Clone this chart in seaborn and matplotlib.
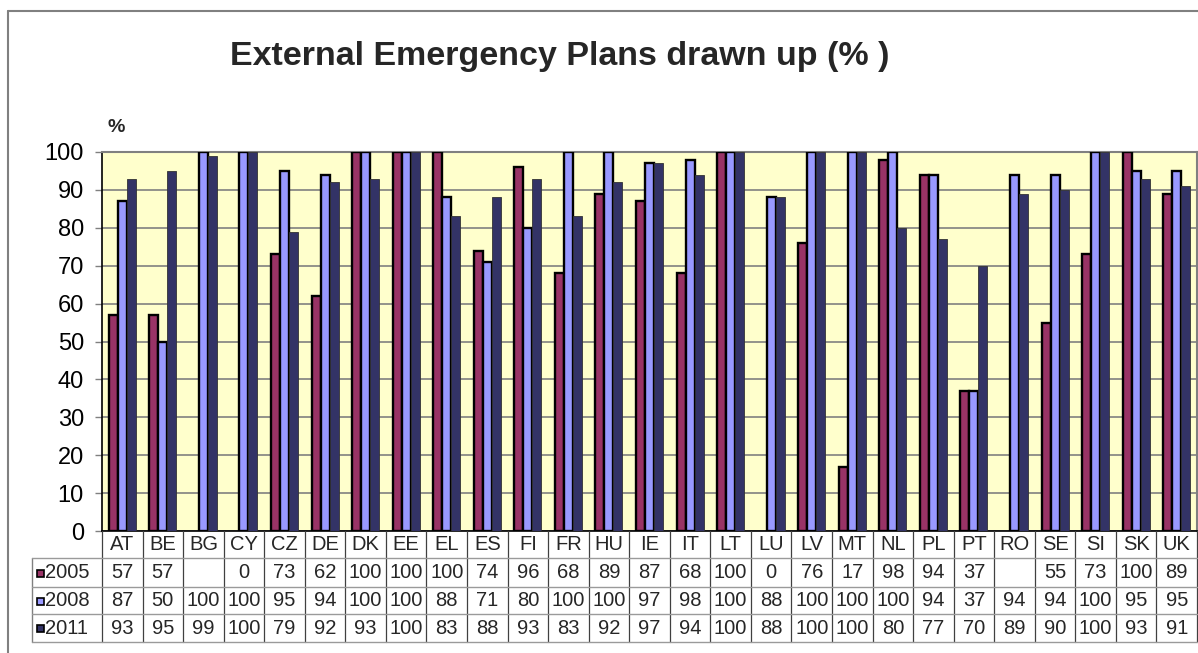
import matplotlib

matplotlib.use("Agg")
import matplotlib.pyplot as plt
import matplotlib.transforms as mtransforms
from matplotlib.lines import Line2D
from matplotlib.patches import Rectangle
import numpy as np
import pandas as pd
import seaborn as sns


COUNTRIES = ["AT", "BE", "BG", "CY", "CZ", "DE", "DK", "EE", "EL", "ES", "FI", "FR", "HU", "IE",
             "IT", "LT", "LU", "LV", "MT", "NL", "PL", "PT", "RO", "SE", "SI", "SK", "UK"]
YEARS = ["2005", "2008", "2011"]
nan = np.nan
VALUES_2005 = [57, 57, nan, 0, 73, 62, 100, 100, 100, 74, 96, 68, 89, 87, 68, 100, 0, 76, 17, 98,
               94, 37, nan, 55, 73, 100, 89]
VALUES_2008 = [87, 50, 100, 100, 95, 94, 100, 100, 88, 71, 80, 100, 100, 97, 98, 100, 88, 100, 100,
               100, 94, 37, 94, 94, 100, 95, 95]
VALUES_2011 = [93, 95, 99, 100, 79, 92, 93, 100, 83, 88, 93, 83, 92, 97, 94, 100, 88, 100, 100, 80,
               77, 70, 89, 90, 100, 93, 91]
COLORS = ["#993366", "#9999FF", "#333366"]

W, H = 1198, 653


def fx(px):
    return px / W


def fy(py):
    return 1 - py / H


def build_frame() -> pd.DataFrame:
    series = {"2005": VALUES_2005, "2008": VALUES_2008, "2011": VALUES_2011}
    rows = []
    for year, vals in series.items():
        for country, v in zip(COUNTRIES, vals):
            rows.append({"Country": country, "Year": year, "Value": v})
    return pd.DataFrame(rows)


def main() -> None:
    sns.set_theme(style="white")
    plt.rcParams["font.family"] = ["Liberation Sans", "DejaVu Sans"]

    df = build_frame()
    fig = plt.figure(figsize=(W / 100, H / 100), dpi=100)
    fig.patch.set_facecolor("white")

    left, right, top, bottom = 102, 1197, 152, 531
    ax = fig.add_axes([fx(left), fy(bottom), fx(right - left), (bottom - top) / H])
    ax.set_facecolor("#FFFFCC")

    sns.barplot(data=df, x="Country", y="Value", hue="Year", hue_order=YEARS, order=COUNTRIES,
                palette=COLORS, saturation=1, width=0.667, gap=0, errorbar=None,
                legend=False, ax=ax, zorder=3)

    for i, cont in enumerate(ax.containers):
        for p in cont:
            if p.get_height() == 0 or np.isnan(p.get_height()):
                p.set_visible(False)
            if i < 2:
                p.set_edgecolor("black")
                p.set_linewidth(1.7)
            else:
                p.set_edgecolor("#333333")
                p.set_linewidth(0.6)

    ax.set_xlim(-0.5, len(COUNTRIES) - 0.5)
    ax.set_ylim(0, 100)
    ax.set_yticks(range(0, 101, 10))
    ax.yaxis.grid(True, color="#808080", linewidth=1.2, zorder=0)
    ax.set_axisbelow(True)
    ax.set_xticks([])
    ax.set_xlabel("")
    ax.set_ylabel("")
    ax.tick_params(axis="y", labelsize=17, length=5, width=1, color="#808080", left=True,
                   pad=8, labelcolor="black")
    for side in ["top", "right"]:
        ax.spines[side].set_color("#808080")
        ax.spines[side].set_linewidth(1.5)
    for side in ["left", "bottom"]:
        ax.spines[side].set_color("black")
        ax.spines[side].set_linewidth(1.2)

    # title and unit label
    fig.text(fx(560), fy(57), "External Emergency Plans drawn up (% )", ha="center", va="center",
             fontsize=24.5, fontweight="bold")
    fig.text(fx(116), fy(128), "%", ha="center", va="center", fontsize=14, fontweight="bold")

    # outer chart frame
    fig.add_artist(Line2D([fx(8), fx(8)], [0, fy(11)], color="#808080", lw=1.5))
    fig.add_artist(Line2D([fx(8), 1], [fy(11), fy(11)], color="#808080", lw=1.5))

    # data table below the plot
    trans = mtransforms.blended_transform_factory(ax.transData, fig.transFigure)
    unit = (right - left) / len(COUNTRIES)
    x_lab_left = -0.5 - (left - 32) / unit
    x_end = len(COUNTRIES) - 0.5
    row_edges = [531, 558, 587, 614, 642]
    grid_kw = dict(transform=trans, clip_on=False)

    for k in range(len(COUNTRIES) + 1):
        xb = k - 0.5
        fig.add_artist(Line2D([xb, xb], [fy(531), fy(642)], color="#404040", lw=0.9, **grid_kw))
    fig.add_artist(Line2D([x_lab_left, x_lab_left], [fy(558), fy(642)], color="#808080", lw=1.0,
                          **grid_kw))
    for py in row_edges[1:]:
        fig.add_artist(Line2D([x_lab_left, x_end], [fy(py), fy(py)], color="#9a9a9a", lw=1.0,
                              **grid_kw))

    fsz = 14.5
    for j, c in enumerate(COUNTRIES):
        fig.text(j, fy((531 + 558) / 2), c, ha="center", va="center", fontsize=fsz,
                 transform=trans)

    series = [VALUES_2005, VALUES_2008, VALUES_2011]
    for r, (year, vals, col) in enumerate(zip(YEARS, series, COLORS)):
        yc = (row_edges[r + 1] + row_edges[r + 2]) / 2
        for j, v in enumerate(vals):
            label = "" if np.isnan(v) else f"{int(v)}"
            fig.text(j, fy(yc), label, ha="center", va="center", fontsize=fsz, transform=trans)
        fig.add_artist(Rectangle((fx(37), fy(yc + 4)), fx(7), 7 / H, facecolor=col,
                                 edgecolor="black", lw=1.2, transform=fig.transFigure))
        fig.text(fx(45), fy(yc), year, ha="left", va="center", fontsize=fsz)

    fig.savefig("out.png", dpi=100)
    plt.close(fig)


if __name__ == "__main__":
    main()
